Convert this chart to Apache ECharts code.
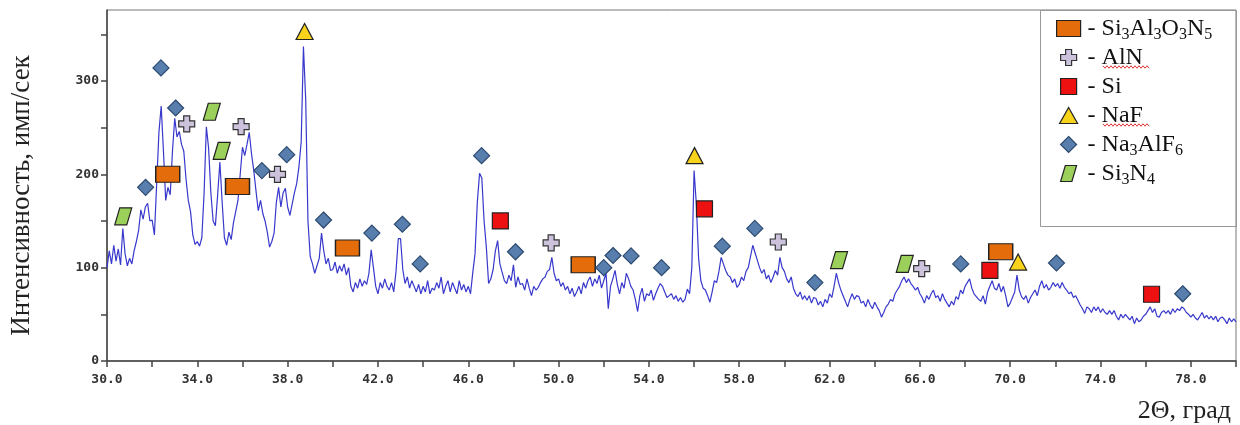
<!DOCTYPE html>
<html>
<head>
<meta charset="utf-8">
<script src="https://cdn.jsdelivr.net/npm/echarts@6/dist/echarts.min.js"></script>
<style>html,body{margin:0;padding:0;background:#fff}#c{width:1240px;height:425px}</style>
</head>
<body>
<div id="c"></div>
<script>
// ---- data ----
const angleStart = 30.0;   // 2θ of first sample
const angleStep = 0.1;     // 2θ step between samples
const intensity = [
 100,118,104,124,107,120,103,142,115,102,
 110,104,118,128,140,162,152,165,169,150,
 151,135,190,245,273,225,172,186,178,225,
 260,240,246,232,225,195,172,160,135,125,
 128,123,132,180,251,228,180,150,145,178,
 213,170,132,124,138,130,148,160,172,200,
 229,220,232,245,222,204,182,161,172,158,
 150,138,122,128,137,170,186,165,180,185,
 165,156,168,180,190,208,235,337,280,150,
 112,104,94,102,110,137,118,104,110,97,
 98,106,94,102,96,104,92,100,80,74,
 84,78,88,80,86,82,94,119,100,80,
 72,84,78,88,80,76,84,74,96,131,
 131,98,83,90,78,86,80,74,82,72,
 80,74,86,72,78,76,84,78,90,72,
 80,86,74,84,78,72,86,76,82,74,
 80,72,95,115,170,201,196,150,122,83,
 88,98,118,129,104,95,86,83,92,86,
 103,79,90,82,83,76,88,78,70,80,
 76,79,84,88,90,96,98,111,94,86,
 88,80,84,76,80,72,78,69,74,80,
 72,84,78,86,90,80,88,83,92,78,
 86,94,56,80,88,97,82,72,84,78,
 94,88,80,76,66,53,70,78,64,72,
 70,76,65,72,78,83,80,74,68,70,
 72,66,70,64,68,63,66,77,72,100,
 204,168,110,86,78,76,70,63,74,86,
 84,96,111,104,97,92,90,84,88,79,
 82,90,86,96,100,112,124,116,108,100,
 94,98,88,92,84,90,97,92,111,100,
 96,88,84,90,78,72,69,74,66,70,
 65,70,62,68,67,60,64,58,66,62,
 72,68,80,94,84,76,70,64,58,66,
 72,66,70,69,62,64,58,66,60,56,
 63,58,54,47,52,58,61,66,64,72,
 76,80,86,90,84,88,83,80,76,79,
 72,68,62,70,66,72,76,68,70,64,
 72,66,62,58,64,60,69,66,76,72,
 80,84,88,78,72,69,66,64,70,61,
 74,80,86,78,76,83,74,80,70,58,
 62,68,74,92,76,69,66,70,62,68,
 72,76,70,80,86,78,82,76,79,84,
 80,83,78,84,79,76,72,74,68,70,
 65,60,56,51,58,56,52,58,54,58,
 52,56,52,50,54,50,54,48,44,50,
 46,50,47,44,48,40,46,42,44,48,
 50,54,58,52,56,48,47,52,54,51,
 54,50,56,52,56,54,58,56,52,50,
 47,50,46,44,48,52,46,49,45,48,
 44,48,42,46,47,44,40,46,42,45,
 42
];

const xTickValues = [30,32,34,36,38,40,42,44,46,48,50,52,54,56,58,60,62,64,66,68,70,72,74,76,78,80];
const xLabelValues = [30,34,38,42,46,50,54,58,62,66,70,74,78];
const yTickValues = [0,50,100,150,200,250,300,350];
const yLabelValues = [0,100,200,300];

const phaseNames = ['Si3Al3O3N5','AlN','Si','NaF','Na3AlF6','Si3N4'];
const phaseLabels = [
  '- Si{s|3}Al{s|3}O{s|3}N{s|5}',
  '- AlN',
  '- Si',
  '- NaF',
  '- Na{s|3}AlF{s|6}',
  '- Si{s|3}N{s|4}'
];

// peak marker positions [2θ, intensity]
const peaksSi3Al3O3N5 = [[32.69,200],[35.78,187],[40.65,121],[51.09,103],[69.58,117]];
const peaksAlN = [[33.53,254],[35.94,251],[37.55,200],[49.67,126.5],[59.73,127.5],[66.08,99]];
const peaksSi = [[47.42,150],[56.46,163],[69.10,97],[76.26,71.5]];
const peaksNaF = [[38.75,353],[56.02,220],[70.35,106]];
const peaksNa3AlF6 = [[31.71,186],[32.39,314],[33.04,271],[36.86,204],[37.96,221],[39.59,151],
  [41.73,137],[43.08,146.5],[43.87,104],[46.59,220],[48.09,117],[52.00,100],[52.41,113],
  [53.21,112.6],[54.56,100],[57.25,123],[58.69,142],[61.35,84],[67.81,104],[72.05,105],[77.64,72]];
const peaksSi3N4 = [[30.72,155],[34.64,267],[35.08,225],[62.42,108],[65.33,104]];

// ---- chart ----
const lineData = intensity.map((v, i) => [+(angleStart + i * angleStep).toFixed(2), v]);

const serif = '"Liberation Serif", "Times New Roman", serif';
const mono = '"DejaVu Sans Mono", monospace';

function phaseSeries(name, data, symbol, size, color, border) {
  return {
    name: name, type: 'scatter', data: data, symbol: symbol, symbolSize: size,
    itemStyle: { color: color, borderColor: border, borderWidth: 1.2, opacity: 1 },
    z: 5, silent: true
  };
}

const chart = echarts.init(document.getElementById('c'), null, { renderer: 'canvas' });

function wavy(x0, x1, y) {
  const pts = [];
  let up = true;
  for (let x = x0; x <= x1; x += 2) { pts.push([x, y + (up ? -1.2 : 1.2)]); up = !up; }
  return pts;
}

chart.setOption({
  backgroundColor: '#fff',
  animation: false,
  grid: { left: 107, right: 4, top: 10, bottom: 64, show: true, borderColor: '#777', borderWidth: 1, backgroundColor: 'transparent' },
  xAxis: {
    type: 'value', min: 30, max: 80, interval: 2,
    axisLine: { show: true, lineStyle: { color: '#444', width: 1.5 } },
    axisTick: { show: true, length: 6, inside: false, customValues: xTickValues, lineStyle: { color: '#444', width: 1.5 } },
    axisLabel: { customValues: xLabelValues, margin: 12, formatter: v => v.toFixed(1),
      fontFamily: mono, fontWeight: 'bold', fontSize: 13, color: '#333' },
    splitLine: { show: false }
  },
  yAxis: {
    type: 'value', min: 0, max: 376, interval: 50,
    name: 'Интенсивность, имп/сек', nameLocation: 'middle', nameGap: 72, nameRotate: 90,
    nameTextStyle: { fontFamily: serif, fontSize: 27, color: '#222', padding: [0, 20, 0, 0] },
    axisLine: { show: true, lineStyle: { color: '#444', width: 1.5 } },
    axisTick: { show: true, length: 6, customValues: yTickValues, lineStyle: { color: '#444', width: 1.5 } },
    axisLabel: { customValues: yLabelValues, margin: 8, padding: [0, 0, 6, 0],
      fontFamily: mono, fontWeight: 'bold', fontSize: 13, color: '#333' },
    splitLine: { show: false }
  },
  legend: {
    data: phaseNames, orient: 'vertical', left: 1056, top: 14, padding: 0,
    itemWidth: 28, itemHeight: 16, itemGap: 0, selectedMode: false,
    symbolKeepAspect: true,
    itemStyle: { borderWidth: 1.2 },
    formatter: name => phaseLabels[phaseNames.indexOf(name)],
    textStyle: { fontFamily: serif, fontSize: 24, color: '#111', lineHeight: 29,
      rich: { s: { fontFamily: serif, fontSize: 16, color: '#111', lineHeight: 15, verticalAlign: 'bottom' } } }
  },
  graphic: [
    { type: 'rect', shape: { x: 1040.5, y: 10.5, width: 196, height: 216 }, style: { fill: 'none', stroke: '#999', lineWidth: 1 }, z: 1, silent: true },
    { type: 'polyline', shape: { points: wavy(1103, 1150, 67) }, style: { stroke: '#e03030', lineWidth: 1, fill: 'none' }, z: 10, silent: true },
    { type: 'polyline', shape: { points: wavy(1103, 1150, 125) }, style: { stroke: '#e03030', lineWidth: 1, fill: 'none' }, z: 10, silent: true },
    { type: 'text', x: 1231, y: 411, style: { text: '2Θ, град', align: 'right', verticalAlign: 'middle', font: '26px ' + serif, fill: '#222' }, silent: true }
  ],
  series: [
    {
      name: 'pattern', type: 'line', data: lineData, showSymbol: false, symbol: 'none',
      lineStyle: { color: '#3838cc', width: 1.2 }, z: 2, silent: true
    },
    phaseSeries('Si3Al3O3N5', peaksSi3Al3O3N5, 'path://M0,0L24,0L24,16L0,16Z', [24, 16], '#e46c0a', '#222'),
    phaseSeries('AlN', peaksAlN, 'path://M5,0L11,0L11,5L16,5L16,11L11,11L11,16L5,16L5,11L0,11L0,5L5,5Z', [16, 16], '#ccc2dc', '#333'),
    phaseSeries('Si', peaksSi, 'path://M0,0L16,0L16,16L0,16Z', [16, 16], '#ee1111', '#222'),
    phaseSeries('NaF', peaksNaF, 'path://M9,0L18,16L0,16Z', [17, 16], '#f7d31c', '#222'),
    phaseSeries('Na3AlF6', peaksNa3AlF6, 'path://M8,0L16,8L8,16L0,8Z', [16, 16], '#587eae', '#2c4a70'),
    phaseSeries('Si3N4', peaksSi3N4, 'path://M5,0L17,0L12,17L0,17Z', [17, 17], '#9bd05a', '#222')
  ]
});
</script>
</body>
</html>
